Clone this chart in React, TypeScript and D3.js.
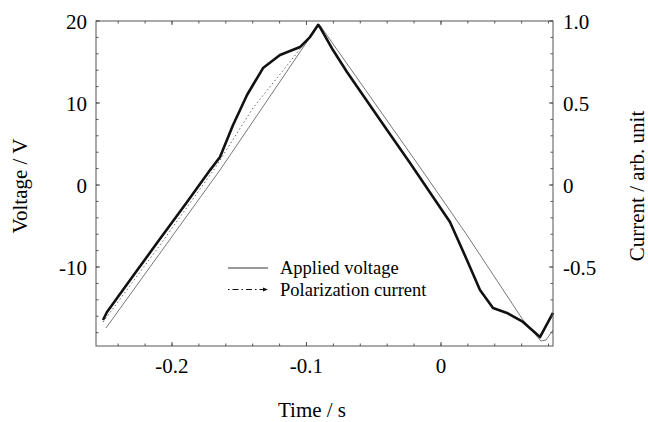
import React from "react";
import * as d3 from "d3";

// Time (s) / Applied voltage (V)
const voltageTime = [-0.2491, -0.1643, -0.0907, -0.0178, 0.0193, 0.061, 0.0699, 0.0743, 0.0781, 0.0833];
const voltageValues = [-17.44, 1.83, 19.63, 2.68, -6.1, -16.46, -18.17, -19.02, -18.9, -17.68];

// Time (s) / Polarization current (arb. unit)
const currentTime = [-0.2513, -0.2483, -0.229, -0.2112, -0.1888, -0.1717, -0.1643, -0.1546, -0.1442, -0.1323, -0.1197, -0.1048, -0.0974, -0.0914, -0.09, -0.0803, -0.0699, -0.055, -0.0401, -0.023, -0.0059, 0.0067, 0.0193, 0.029, 0.0387, 0.0491, 0.061, 0.0736, 0.0833];
const currentValues = [-0.823, -0.774, -0.555, -0.354, -0.104, 0.091, 0.171, 0.366, 0.549, 0.713, 0.793, 0.841, 0.902, 0.976, 0.963, 0.823, 0.689, 0.512, 0.335, 0.134, -0.073, -0.226, -0.457, -0.64, -0.75, -0.78, -0.835, -0.927, -0.78];

// dotted reference trace (voltage units)
const refTime = [-0.2513, -0.2089, -0.168, -0.1398, -0.11, -0.0922];
const refValues = [-16.71, -7.32, 2.07, 9.39, 15.49, 19.27];

const xTicks = [-0.2, -0.1, 0];
const xTickLabels = ["-0.2", "-0.1", "0"];
const yLeftTicks = [20, 10, 0, -10];
const yLeftLabels = ["20", "10", "0", "-10"];
const yRightTicks = [1.0, 0.5, 0, -0.5];
const yRightLabels = ["1.0", "0.5", "0", "-0.5"];
const legendLabels = ["Applied voltage", "Polarization current"];

const W = 648, H = 422;
const L = 96, R = 553, T = 21, B = 346;
const FONT = "'Times New Roman', 'Liberation Serif', Tinos, 'Nimbus Roman', FreeSerif, 'DejaVu Serif', 'Noto Serif', serif";

export default function App() {
  const x = d3.scaleLinear().domain([-0.2565, 0.0833]).range([L, R]);
  const yL = d3.scaleLinear().domain([-19.63, 20]).range([B, T]);
  const yR = d3.scaleLinear().domain([-0.9815, 1.0]).range([B, T]);

  const vLine = d3.line<number>().x((_, i) => x(voltageTime[i])).y((d) => yL(d)).curve(d3.curveLinear);
  const cLine = d3.line<number>().x((_, i) => x(currentTime[i])).y((d) => yR(d)).curve(d3.curveLinear);
  const rLine = d3.line<number>().x((_, i) => x(refTime[i])).y((d) => yL(d)).curve(d3.curveLinear);

  const xMinor = d3.range(-0.24, 0.0801, 0.02);
  const yMinor = d3.range(-18, 20.01, 2);
  const stroke = "#555";
  const ts: React.CSSProperties = { fontFamily: FONT };

  return (
    <svg width={W} height={H} style={{ position: "absolute", left: 0, top: 0, background: "#fff", fontFamily: FONT }}>
      <rect x={0} y={0} width={W} height={H} fill="#fff" />
      {/* data */}
      <path d={vLine(voltageValues) || ""} fill="none" stroke="#777" strokeWidth={1} />
      <path d={rLine(refValues) || ""} fill="none" stroke="#666" strokeWidth={1} strokeDasharray="1.5,2.5" />
      <path d={cLine(currentValues) || ""} fill="none" stroke="#111" strokeWidth={2.6} strokeLinejoin="round" />
      {/* frame */}
      <rect x={L} y={T} width={R - L} height={B - T} fill="none" stroke={stroke} strokeWidth={1} />
      {xMinor.map((t, i) => (
        <g key={"xm" + i}>
          <line x1={x(t)} x2={x(t)} y1={B} y2={B - 2.5} stroke={stroke} />
          <line x1={x(t)} x2={x(t)} y1={T} y2={T + 2.5} stroke={stroke} />
        </g>
      ))}
      {xTicks.map((t, i) => (
        <g key={"xt" + i}>
          <line x1={x(t)} x2={x(t)} y1={B} y2={B - 4} stroke={stroke} />
          <line x1={x(t)} x2={x(t)} y1={T} y2={T + 4} stroke={stroke} />
          <text x={x(t)} y={373} textAnchor="middle" fontSize={21} style={ts}>{xTickLabels[i]}</text>
        </g>
      ))}
      {yMinor.map((t, i) => (
        <g key={"ym" + i}>
          <line x1={L} x2={L + 2.5} y1={yL(t)} y2={yL(t)} stroke={stroke} />
          <line x1={R} x2={R - 2.5} y1={yL(t)} y2={yL(t)} stroke={stroke} />
        </g>
      ))}
      {yLeftTicks.map((t, i) => (
        <g key={"yl" + i}>
          <line x1={L} x2={L + 4} y1={yL(t)} y2={yL(t)} stroke={stroke} />
          <text x={87} y={yL(t) + 7.5} textAnchor="end" fontSize={21} style={ts}>{yLeftLabels[i]}</text>
        </g>
      ))}
      {yRightTicks.map((t, i) => (
        <g key={"yr" + i}>
          <line x1={R} x2={R - 4} y1={yR(t)} y2={yR(t)} stroke={stroke} />
          <text x={563} y={yR(t) + 7.5} textAnchor="start" fontSize={21} style={ts}>{yRightLabels[i]}</text>
        </g>
      ))}
      {/* axis titles */}
      <text x={312} y={417} textAnchor="middle" fontSize={21} style={ts}>Time / s</text>
      <text transform={`translate(27,${186}) rotate(-90)`} textAnchor="middle" fontSize={21} style={ts}>Voltage / V</text>
      <text transform={`translate(644,${186}) rotate(-90)`} textAnchor="middle" fontSize={21} style={ts}>Current / arb. unit</text>
      {/* legend */}
      <line x1={228} x2={268} y1={268} y2={268} stroke="#999" strokeWidth={1.8} />
      <text x={280} y={274} fontSize={18.5} style={ts}>{legendLabels[0]}</text>
      <line x1={228} x2={266} y1={289.5} y2={289.5} stroke="#111" strokeWidth={1} strokeDasharray="1.5,3,6,3" />
      <path d="M263,287.5 L268,289.5 L263,291.5 Z" fill="#111" />
      <text x={280} y={296} fontSize={18.5} style={ts}>{legendLabels[1]}</text>
    </svg>
  );
}
